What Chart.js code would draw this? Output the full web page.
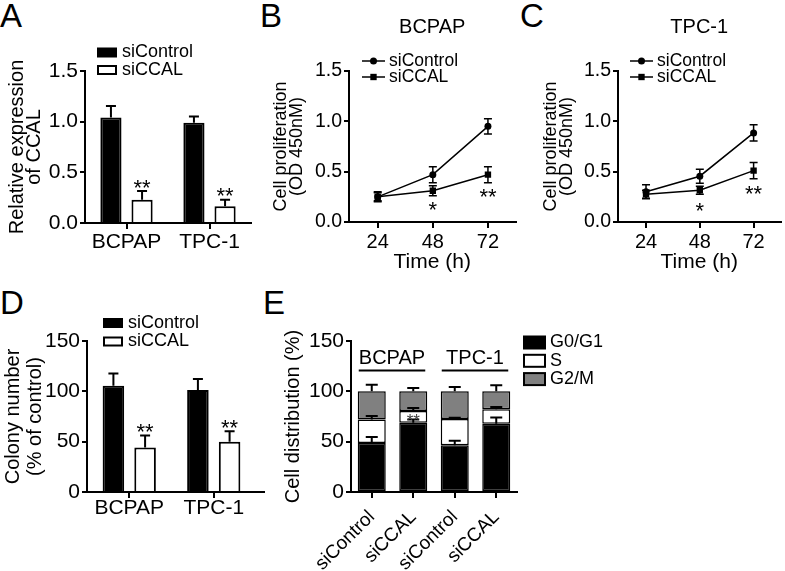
<!DOCTYPE html>
<html>
<head>
<meta charset="utf-8">
<script src="https://cdn.jsdelivr.net/npm/chart.js@4.4.1/dist/chart.umd.min.js"></script>
<style>
  body { margin: 0; background: #fff; width: 785px; height: 571px; position: relative; overflow: hidden;
         font-family: "Liberation Sans", Arial, sans-serif; }
  canvas { position: absolute; }
  .tag { position: absolute; font-size: 33px; line-height: 33px; color: #000; }
</style>
</head>
<body>
<div class="tag" style="left:0px;top:-1px">A</div>
<div class="tag" style="left:260px;top:-1px">B</div>
<div class="tag" style="left:520px;top:-1px">C</div>
<div class="tag" style="left:0px;top:286px">D</div>
<div class="tag" style="left:263px;top:286px">E</div>

<canvas id="chartA" width="260" height="290" style="left:0;top:0"></canvas>
<canvas id="chartB" width="260" height="290" style="left:260px;top:0"></canvas>
<canvas id="chartC" width="265" height="290" style="left:520px;top:0"></canvas>
<canvas id="chartD" width="265" height="281" style="left:0;top:290px"></canvas>
<canvas id="chartE" width="520" height="281" style="left:265px;top:290px"></canvas>

<script>
// A: relative expression of CCAL
const cellLines = ['BCPAP', 'TPC-1'];
const exprControl = [1.04, 0.99];
const exprControlErr = [0.115, 0.06];
const exprCCAL = [0.23, 0.165];
const exprCCALErr = [0.085, 0.065];

// B, C: cell proliferation (OD 450nM)
const hours = [24, 48, 72];
const bcpapControl = [0.25, 0.47, 0.95];
const bcpapControlErr = [0.05, 0.08, 0.075];
const bcpapCCAL = [0.25, 0.31, 0.47];
const bcpapCCALErr = [0.04, 0.05, 0.08];
const tpcControl = [0.30, 0.455, 0.885];
const tpcControlErr = [0.07, 0.07, 0.08];
const tpcCCAL = [0.275, 0.315, 0.51];
const tpcCCALErr = [0.04, 0.04, 0.08];

// D: colony number (% of control)
const colonyControl = [105.5, 101.3];
const colonyControlErr = [12.3, 11];
const colonyCCAL = [44.2, 49.8];
const colonyCCALErr = [11.9, 10.6];

// E: cell cycle distribution (%)
const cycleGroups = ['siControl', 'siCCAL', 'siControl', 'siCCAL'];
const g0g1 = [48.7, 68.9, 46.4, 67.9];
const sPhase = [23.2, 11.6, 26.1, 14.2];
const g2m = [28.1, 19.5, 27.5, 17.9];
const g0g1Err = [6, 3, 4.6, 6];
const sPhaseErr = [3.6, 3, 1.3, 2.3];
const g2mErr = [6.6, 3.3, 4.3, 6];

const FONT = '"Liberation Sans", Arial, sans-serif';
Chart.defaults.font.family = FONT;
Chart.defaults.color = '#000';
Chart.defaults.animation = false;
Chart.defaults.plugins.legend.display = false;
Chart.defaults.plugins.tooltip.enabled = false;

// error bars from dataset.errors (up only for bars, both ways for lines)
const errorBars = {
  id: 'errorBars',
  afterDatasetsDraw(chart, args, o) {
    if (!o.cap) return;
    const ctx = chart.ctx, y = chart.scales.y;
    ctx.save();
    ctx.strokeStyle = '#000';
    ctx.lineWidth = o.width;
    chart.data.datasets.forEach((ds, i) => {
      if (!ds.errors) return;
      chart.getDatasetMeta(i).data.forEach((el, j) => {
        const v = y.getValueForPixel(el.y);
        const top = y.getPixelForValue(v + ds.errors[j]);
        const bot = o.both ? y.getPixelForValue(v - ds.errors[j]) : el.y;
        const c = o.cap / 2;
        ctx.beginPath();
        ctx.moveTo(el.x, bot); ctx.lineTo(el.x, top);
        ctx.moveTo(el.x - c, top); ctx.lineTo(el.x + c, top);
        if (o.both) { ctx.moveTo(el.x - c, bot); ctx.lineTo(el.x + c, bot); }
        ctx.stroke();
      });
    });
    ctx.restore();
  }
};

// significance stars next to a data point
const stars = {
  id: 'stars',
  afterDatasetsDraw(chart, args, o) {
    if (!o.items) return;
    const ctx = chart.ctx, y = chart.scales.y;
    ctx.save();
    ctx.font = o.size + 'px ' + FONT;
    ctx.fillStyle = o.color || '#000';
    ctx.textAlign = 'center';
    ctx.textBaseline = 'alphabetic';
    o.items.forEach(it => {
      const ds = chart.data.datasets[it.ds];
      const el = chart.getDatasetMeta(it.ds).data[it.i];
      const v = y.getValueForPixel(el.y);
      const e = ds.errors ? ds.errors[it.i] : 0;
      let cy;
      if (it.pos === 'above') cy = y.getPixelForValue(v + e) - it.gap;
      else if (it.pos === 'below') cy = y.getPixelForValue(v - e) + it.gap;
      else cy = (el.y + el.base) / 2;
      ctx.fillText(it.text, el.x, cy + 0.57 * o.size);
    });
    ctx.restore();
  }
};

// legend drawn from the datasets
const keyBox = {
  id: 'keyBox',
  afterDraw(chart, args, o) {
    if (!o.x) return;
    const ctx = chart.ctx;
    ctx.save();
    ctx.font = o.size + 'px ' + FONT;
    ctx.textBaseline = 'middle';
    chart.data.datasets.forEach((ds, k) => {
      const cy = o.y + k * o.step;
      if (o.kind === 'line') {
        ctx.strokeStyle = '#000';
        ctx.lineWidth = ds.borderWidth;
        ctx.beginPath(); ctx.moveTo(o.x, cy); ctx.lineTo(o.x + o.w, cy); ctx.stroke();
        const mx = o.x + o.w / 2;
        ctx.fillStyle = '#000';
        ctx.beginPath();
        if (ds.pointStyle === 'rect') {
          const s = ds.pointRadius * Math.SQRT1_2;
          ctx.rect(mx - s, cy - s, 2 * s, 2 * s);
        } else {
          ctx.arc(mx, cy, ds.pointRadius, 0, 2 * Math.PI);
        }
        ctx.fill();
      } else {
        const lw = o.line;
        ctx.fillStyle = ds.backgroundColor;
        ctx.strokeStyle = '#000';
        ctx.lineWidth = lw;
        ctx.fillRect(o.x + lw / 2, cy - o.h / 2 + lw / 2, o.w - lw, o.h - lw);
        ctx.strokeRect(o.x + lw / 2, cy - o.h / 2 + lw / 2, o.w - lw, o.h - lw);
      }
      ctx.fillStyle = '#000';
      ctx.fillText(ds.label, o.x + o.w + o.gap, cy);
    });
    ctx.restore();
  }
};

// cell line labels over pairs of stacked bars
const groupLines = {
  id: 'groupLines',
  afterDraw(chart, args, o) {
    if (!o.groups) return;
    const ctx = chart.ctx, y = chart.scales.y;
    const meta = chart.getDatasetMeta(0);
    ctx.save();
    ctx.font = o.size + 'px ' + FONT;
    ctx.fillStyle = '#000';
    ctx.strokeStyle = '#000';
    ctx.lineWidth = 2;
    ctx.textAlign = 'center';
    ctx.textBaseline = 'middle';
    o.groups.forEach(g => {
      const a = meta.data[g.from], b = meta.data[g.to];
      const x1 = a.x - a.width / 2 + 1, x2 = b.x + b.width / 2 - 2;
      const ly = Math.round(y.getPixelForValue(o.lineAt)) + 0.5;
      ctx.beginPath(); ctx.moveTo(x1, ly); ctx.lineTo(x2, ly); ctx.stroke();
      ctx.fillText(g.label, (x1 + x2) / 2, y.getPixelForValue(o.textAt));
    });
    ctx.restore();
  }
};

// longer x axis line than the category area
const axisExtend = {
  id: 'axisExtend',
  afterDraw(chart, args, o) {
    if (!o.to) return;
    const ctx = chart.ctx, x = chart.scales.x;
    const yy = Math.round(x.top);
    ctx.save();
    ctx.strokeStyle = '#000';
    ctx.lineWidth = 2;
    ctx.beginPath(); ctx.moveTo(chart.chartArea.right, yy); ctx.lineTo(o.to, yy); ctx.stroke();
    ctx.restore();
  }
};

Chart.register(errorBars, stars, keyBox, groupLines, axisExtend);

function axisLook(tick) {
  return {
    grid: { drawOnChartArea: false, color: '#000', lineWidth: 2, tickLength: tick, offset: false },
    border: { color: '#000', width: 2 },
  };
}

// ---------- A ----------
new Chart(document.getElementById('chartA'), {
  type: 'bar',
  data: {
    labels: cellLines,
    datasets: [
      { label: 'siControl', data: exprControl, errors: exprControlErr,
        backgroundColor: '#000', borderColor: '#000', borderWidth: 2 },
      { label: 'siCCAL', data: exprCCAL, errors: exprCCALErr,
        backgroundColor: '#fff', borderColor: '#000', borderWidth: 2 },
    ],
  },
  options: {
    responsive: false,
    devicePixelRatio: 1,
    barPercentage: 0.68,
    categoryPercentage: 0.75,
    layout: { padding: { left: 0, top: 71, right: 9, bottom: 0 } },
    scales: {
      x: {
        ...axisLook(6),
        ticks: { font: { size: 21, lineHeight: 1 }, padding: 3 },
        afterFit: s => { s.height = 67; },
      },
      y: {
        min: 0, max: 1.5,
        ...axisLook(5),
        ticks: { stepSize: 0.5, font: { size: 21, lineHeight: 1 }, padding: 2, callback: v => v.toFixed(1) },
        title: { display: true, text: ['Relative expression', 'of CCAL'],
                 font: { size: 20, lineHeight: 0.85 }, padding: { top: 9, bottom: 0 } },
        afterFit: s => { s.width = 85; },
      },
    },
    plugins: {
      errorBars: { cap: 10, width: 2 },
      stars: { size: 22, items: [
        { ds: 1, i: 0, text: '**', pos: 'above', gap: 9 },
        { ds: 1, i: 1, text: '**', pos: 'above', gap: 9 },
      ] },
      keyBox: { x: 97, y: 52.5, step: 17.5, w: 20, h: 10, gap: 5, size: 18, line: 2 },
    },
  },
});

// ---------- B, C ----------
function growthChart(id, title, ctrl, ctrlErr, ccal, ccalErr, left, right, titleLeft, keyX, starGaps) {
  return new Chart(document.getElementById(id), {
    type: 'line',
    data: {
      datasets: [
        { label: 'siControl', data: hours.map((h, i) => ({ x: h, y: ctrl[i] })), errors: ctrlErr,
          borderColor: '#000', backgroundColor: '#000', borderWidth: 1.5,
          pointStyle: 'circle', pointRadius: 3.5, pointBorderWidth: 0 },
        { label: 'siCCAL', data: hours.map((h, i) => ({ x: h, y: ccal[i] })), errors: ccalErr,
          borderColor: '#000', backgroundColor: '#000', borderWidth: 1.5,
          pointStyle: 'rect', pointRadius: 4.5, pointBorderWidth: 0 },
      ],
    },
    options: {
      responsive: false,
      devicePixelRatio: 1,
      layout: { padding: { left: 0, top: 0, right: right, bottom: 0 } },
      scales: {
        x: {
          type: 'linear', min: 11.5, max: 84,
          ...axisLook(6),
          afterBuildTicks: s => { s.ticks = hours.map(v => ({ value: v })); },
          ticks: { font: { size: 20, lineHeight: 1 }, padding: 4 },
          title: { display: true, text: 'Time (h)', font: { size: 21, lineHeight: 1 }, padding: { top: 0, bottom: 17 } },
          afterFit: s => { s.height = 68; },
        },
        y: {
          min: 0, max: 1.5,
          ...axisLook(5),
          ticks: { stepSize: 0.5, font: { size: 19.5, lineHeight: 1 }, padding: 2, callback: v => v.toFixed(1) },
          title: { display: true, text: ['Cell proliferation', '(OD 450nM)'],
                   font: { size: 18, lineHeight: 0.9 }, padding: { top: titleLeft, bottom: 0 } },
          afterFit: s => { s.width = left; },
        },
      },
      plugins: {
        title: { display: true, text: title, fullSize: false, font: { size: 20, weight: 'normal', lineHeight: 1.2 },
                 padding: { top: 15, bottom: 32 } },
        errorBars: { cap: 8, width: 1.5, both: true },
        stars: { size: 22, items: [
          { ds: 1, i: 1, text: '*', pos: 'below', gap: starGaps[0] },
          { ds: 1, i: 2, text: '**', pos: 'below', gap: starGaps[1] },
        ] },
        keyBox: { kind: 'line', x: keyX, y: 61, step: 16, w: 23, gap: 4, size: 17.5 },
      },
    },
  });
}
growthChart('chartB', 'BCPAP', bcpapControl, bcpapControlErr, bcpapCCAL, bcpapCCALErr, 89, 3, 13, 102, [9, 8.5]);
growthChart('chartC', 'TPC-1', tpcControl, tpcControlErr, tpcCCAL, tpcCCALErr, 98, 0, 23, 110, [11, 10]);

// ---------- D ----------
new Chart(document.getElementById('chartD'), {
  type: 'bar',
  data: {
    labels: cellLines,
    datasets: [
      { label: 'siControl', data: colonyControl, errors: colonyControlErr,
        backgroundColor: '#000', borderColor: '#000', borderWidth: 2 },
      { label: 'siCCAL', data: colonyCCAL, errors: colonyCCALErr,
        backgroundColor: '#fff', borderColor: '#000', borderWidth: 2 },
    ],
  },
  options: {
    responsive: false,
    devicePixelRatio: 1,
    barPercentage: 0.68,
    categoryPercentage: 0.75,
    layout: { padding: { left: 0, top: 51, right: 9, bottom: 0 } },
    scales: {
      x: {
        ...axisLook(6),
        ticks: { font: { size: 21, lineHeight: 1 }, padding: 0 },
        afterFit: s => { s.height = 79; },
      },
      y: {
        min: 0, max: 150,
        ...axisLook(5),
        ticks: { stepSize: 50, font: { size: 21, lineHeight: 1 }, padding: 2 },
        title: { display: true, text: ['Colony number', '(% of control)'],
                 font: { size: 20, lineHeight: 1.1 }, padding: { top: 2, bottom: 0 } },
        afterFit: s => { s.width = 87; },
      },
    },
    plugins: {
      errorBars: { cap: 10, width: 2 },
      stars: { size: 22, items: [
        { ds: 1, i: 0, text: '**', pos: 'above', gap: 9 },
        { ds: 1, i: 1, text: '**', pos: 'above', gap: 9 },
      ] },
      keyBox: { x: 103, y: 33, step: 18.5, w: 20, h: 10, gap: 5, size: 18, line: 2 },
      axisExtend: { to: 267 },
    },
  },
});

// ---------- E ----------
new Chart(document.getElementById('chartE'), {
  type: 'bar',
  data: {
    labels: cycleGroups,
    datasets: [
      { label: 'G0/G1', data: g0g1, errors: g0g1Err, backgroundColor: '#000',
        borderColor: '#000', borderWidth: 1.5, borderSkipped: false },
      { label: 'S', data: sPhase, errors: sPhaseErr, backgroundColor: '#fff',
        borderColor: '#000', borderWidth: 1.5, borderSkipped: false },
      { label: 'G2/M', data: g2m, errors: g2mErr, backgroundColor: '#808080',
        borderColor: '#000', borderWidth: 1.5, borderSkipped: false },
    ],
  },
  options: {
    responsive: false,
    devicePixelRatio: 1,
    barPercentage: 0.75,
    categoryPercentage: 0.9,
    layout: { padding: { left: 0, top: 51, right: 268, bottom: 0 } },
    scales: {
      x: {
        stacked: true,
        ...axisLook(6),
        ticks: { font: { size: 19, lineHeight: 1.2 }, padding: 8, minRotation: 45, maxRotation: 45 },
        afterFit: s => { s.height = 79; },
      },
      y: {
        stacked: true,
        min: 0, max: 150,
        ...axisLook(5),
        ticks: { stepSize: 50, font: { size: 21, lineHeight: 1 }, padding: 2 },
        title: { display: true, text: 'Cell distribution (%)',
                 font: { size: 20, lineHeight: 1 }, padding: { top: 18, bottom: 0 } },
        afterFit: s => { s.width = 86; },
      },
    },
    plugins: {
      errorBars: { cap: 12, width: 2 },
      stars: { size: 17, color: '#444', items: [
        { ds: 1, i: 1, text: '**', pos: 'mid' },
      ] },
      keyBox: { x: 258, y: 52.5, step: 18.3, w: 23, h: 14, gap: 4, size: 18, line: 2 },
      groupLines: { size: 20, lineAt: 121, textAt: 133,
                    groups: cellLines.map((c, k) => ({ label: c, from: 2 * k, to: 2 * k + 1 })) },
    },
  },
});
</script>
</body>
</html>
